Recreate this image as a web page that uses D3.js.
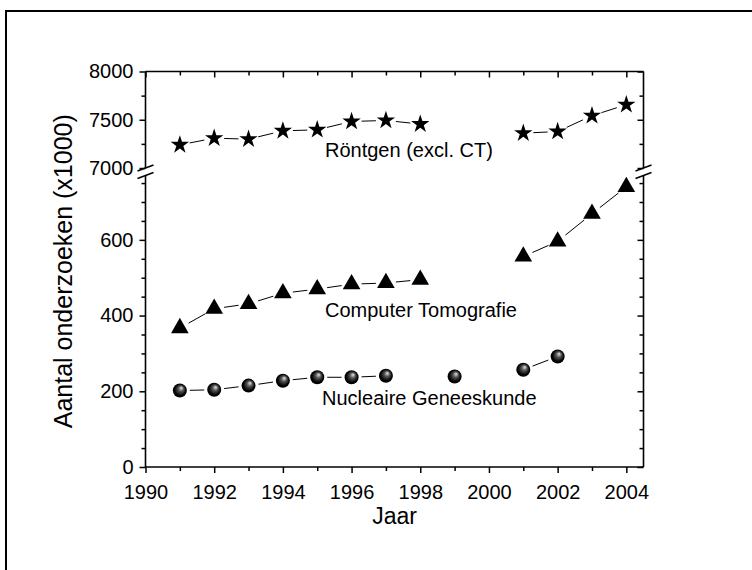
<!DOCTYPE html>
<html><head><meta charset="utf-8">
<script src="https://cdn.jsdelivr.net/npm/d3@7"></script>
<style>body{margin:0;background:#fff}svg{display:block}</style>
</head><body>
<svg id="c" width="752" height="570"></svg>
<script>
// ---- data ----
const yearsRontgen = [1991,1992,1993,1994,1995,1996,1997,1998,2001,2002,2003,2004];
const rontgen      = [7240,7309,7299,7385,7396,7482,7493,7455,7361,7378,7542,7656];
const yearsCT      = [1991,1992,1993,1994,1995,1996,1997,1998,2001,2002,2003,2004];
const ct           = [367,418,431,459,470,483,486,495,556,596,669,740];
const yearsNG      = [1991,1992,1993,1994,1995,1996,1997,1999,2001,2002];
const ng           = [202,204,215,228,237,237,241,239,257,292];
const xTicks       = [1990,1992,1994,1996,1998,2000,2002,2004];
const yLowTicks    = [0,200,400,600];
const yHighTicks   = [7000,7500,8000];
const seriesLabels = ["Röntgen (excl. CT)","Computer Tomografie","Nucleaire Geneeskunde"];

const svg = d3.select("#c");
const FONT = "'Liberation Sans', Arial, Helvetica, sans-serif";

// frame
svg.append("rect").attr("x",6).attr("y",11).attr("width",800).attr("height",800)
  .attr("fill","none").attr("stroke","#000").attr("stroke-width",2);

const L=145.5, R=643.5, B=467, T=71.5;
const x = d3.scaleLinear().domain([1990,2004.5]).range([L,R]);
const yLow = d3.scaleLinear().domain([0,770]).range([B,175.5]);
const yHigh = d3.scaleLinear().domain([7000,8000]).range([168,T]);

const defs = svg.append("defs");
const g = defs.append("radialGradient").attr("id","ball").attr("cx","50%").attr("cy","50%").attr("r","55%").attr("fx","62%").attr("fy","30%");
g.append("stop").attr("offset","0%").attr("stop-color","#e8e8e8");
g.append("stop").attr("offset","35%").attr("stop-color","#555");
g.append("stop").attr("offset","75%").attr("stop-color","#000");
g.append("stop").attr("offset","100%").attr("stop-color","#000");

// axes
const axG = svg.append("g").attr("font-family",FONT);
function axisGroup(gen, tr){
  const a = axG.append("g").attr("transform",tr).call(gen);
  a.select(".domain").remove();
  a.selectAll("line").attr("stroke","#000").attr("stroke-width",1.5);
  a.selectAll("text").attr("font-size",20).attr("fill","#000").attr("font-family",FONT);
  return a;
}
const minorX = d3.range(1990,2005,1);
const minorLow = [50,100,150,250,300,350,450,500,550,650,700,750];
// bottom
axisGroup(d3.axisBottom(x).tickValues(xTicks).tickFormat(d3.format("d")).tickSize(6).tickPadding(12), `translate(0,${B})`);
axisGroup(d3.axisBottom(x).tickValues(minorX.filter(d=>d%2)).tickFormat("").tickSize(4), `translate(0,${B})`);
// top (inward)
axisGroup(d3.axisBottom(x).tickValues(xTicks).tickFormat("").tickSize(6), `translate(0,${T})`);
axisGroup(d3.axisBottom(x).tickValues(minorX.filter(d=>d%2)).tickFormat("").tickSize(4), `translate(0,${T})`);
// left
axisGroup(d3.axisLeft(yLow).tickValues(yLowTicks).tickFormat(d3.format("d")).tickSize(6).tickPadding(6), `translate(${L},0)`);
axisGroup(d3.axisLeft(yLow).tickValues(minorLow).tickFormat("").tickSize(4), `translate(${L},0)`);
axisGroup(d3.axisLeft(yHigh).tickValues(yHighTicks).tickFormat(d3.format("d")).tickSize(6).tickPadding(6), `translate(${L},0)`);
axisGroup(d3.axisLeft(yHigh).tickValues([7250,7750]).tickFormat("").tickSize(4), `translate(${L},0)`);
// right (inward)
axisGroup(d3.axisLeft(yLow).tickValues(yLowTicks).tickFormat("").tickSize(6), `translate(${R},0)`);
axisGroup(d3.axisLeft(yLow).tickValues(minorLow).tickFormat("").tickSize(4), `translate(${R},0)`);
axisGroup(d3.axisLeft(yHigh).tickValues(yHighTicks).tickFormat("").tickSize(6), `translate(${R},0)`);
axisGroup(d3.axisLeft(yHigh).tickValues([7250,7750]).tickFormat("").tickSize(4), `translate(${R},0)`);

// axis lines
const al = svg.append("g").attr("stroke","#000").attr("stroke-width",1.6).attr("fill","none");
al.append("line").attr("x1",L).attr("x2",R).attr("y1",B).attr("y2",B);
al.append("line").attr("x1",L).attr("x2",R).attr("y1",T).attr("y2",T);
[L,R].forEach(xx=>{
  al.append("line").attr("x1",xx).attr("x2",xx).attr("y1",B).attr("y2",yLow(770));
  al.append("line").attr("x1",xx).attr("x2",xx).attr("y1",yHigh(7000)).attr("y2",T);
  [yHigh(7000), yLow(770)].forEach(yy=>{
    al.append("line").attr("x1",xx-8).attr("x2",xx+8).attr("y1",yy+3).attr("y2",yy-3).attr("stroke-width",1.6);
  });
});

// series
function drawSeries(years, vals, ys, shape){
  const pts = years.map((yr,i)=>[x(yr), ys(vals[i]), yr]);
  const lg = svg.append("g").attr("stroke","#000").attr("stroke-width",1);
  const gap = 10;
  for(let i=1;i<pts.length;i++){
    if(pts[i][2]-pts[i-1][2]!==1) continue;
    const [x1,y1]=pts[i-1],[x2,y2]=pts[i];
    const dx=x2-x1, dy=y2-y1, len=Math.hypot(dx,dy), ux=dx/len, uy=dy/len;
    lg.append("line").attr("x1",x1+ux*gap).attr("y1",y1+uy*gap).attr("x2",x2-ux*gap).attr("y2",y2-uy*gap);
  }
  const mg = svg.append("g");
  pts.forEach(p=>{
    if(shape==="ball"){
      mg.append("circle").attr("cx",p[0]).attr("cy",p[1]).attr("r",7).attr("fill","url(#ball)");
    } else {
      const sym = shape==="star" ? d3.symbol(d3.symbolStar, 105) : d3.symbol(d3.symbolTriangle, 135);
      mg.append("path").attr("d",sym()).attr("transform",`translate(${p[0]},${p[1]})`).attr("fill","#000");
    }
  });
}
drawSeries(yearsRontgen, rontgen, yHigh, "star");
drawSeries(yearsCT, ct, yLow, "tri");
drawSeries(yearsNG, ng, yLow, "ball");

// labels
const lab = svg.append("g").attr("font-family",FONT).attr("font-size",20).attr("fill","#000");
lab.append("text").attr("x",325).attr("y",157).text(seriesLabels[0]);
lab.append("text").attr("x",325).attr("y",317).text(seriesLabels[1]);
lab.append("text").attr("x",322).attr("y",405).text(seriesLabels[2]);

svg.append("text").attr("font-family",FONT).attr("font-size",23).attr("text-anchor","middle")
  .attr("x",(L+R)/2).attr("y",524).text("Jaar");
svg.append("text").attr("font-family",FONT).attr("font-size",25).attr("text-anchor","middle")
  .attr("transform",`translate(72,${(B+T)/2 + 2}) rotate(-90)`).text("Aantal onderzoeken (x1000)");
</script>
</body></html>
